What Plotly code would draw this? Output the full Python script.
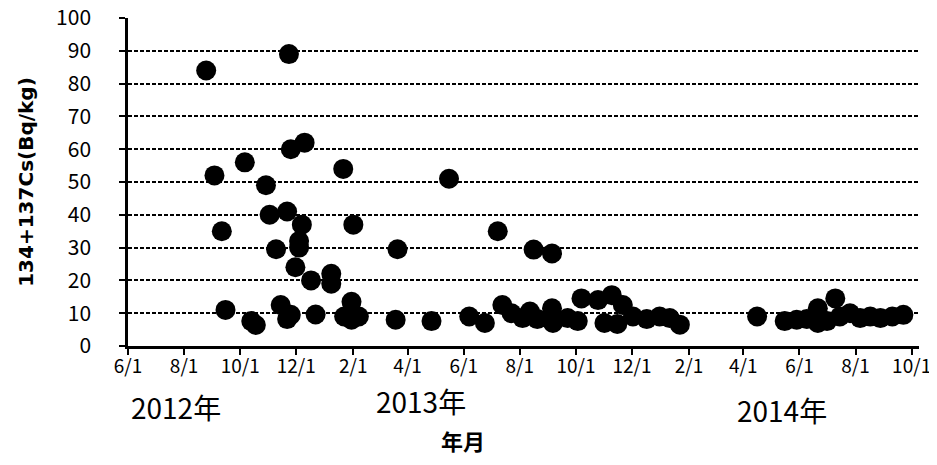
import plotly.graph_objects as go

dates = [
    "2012-08-25", "2012-09-03", "2012-09-11", "2012-09-15", "2012-10-06", "2012-10-13",
    "2012-10-18", "2012-10-29", "2012-11-02", "2012-11-09", "2012-11-14", "2012-11-21",
    "2012-11-21", "2012-11-23", "2012-11-25", "2012-11-25", "2012-11-30", "2012-12-04",
    "2012-12-04", "2012-12-07", "2012-12-10", "2012-12-17", "2012-12-22", "2013-01-08",
    "2013-01-08", "2013-01-21", "2013-01-22", "2013-01-30", "2013-01-30", "2013-02-01",
    "2013-02-07", "2013-03-19", "2013-03-21", "2013-04-27", "2013-05-16", "2013-06-07",
    "2013-06-24", "2013-07-08", "2013-07-13", "2013-07-23", "2013-08-04", "2013-08-12",
    "2013-08-16", "2013-08-20", "2013-09-05", "2013-09-05", "2013-09-06", "2013-09-22",
    "2013-10-03", "2013-10-07", "2013-10-25", "2013-11-01", "2013-11-09", "2013-11-15",
    "2013-11-21", "2013-12-02", "2013-12-17", "2013-12-31", "2014-01-11", "2014-01-22",
    "2014-04-16", "2014-05-16", "2014-05-29", "2014-06-09", "2014-06-21", "2014-06-21",
    "2014-07-01", "2014-07-10", "2014-07-15", "2014-07-26", "2014-08-06", "2014-08-17",
    "2014-08-28", "2014-09-10", "2014-09-22",
]
values = [
    84, 52, 35, 11, 56, 7.6,
    6.4, 49, 40, 29.5, 12.5, 41,
    8.2, 89, 60, 9.5, 24, 32,
    30, 37, 62, 20, 9.6, 22,
    19, 54, 9, 13.5, 8, 37,
    9, 8, 29.5, 7.6, 51, 9,
    7, 35, 12.5, 10, 8.5, 10.5,
    29.4, 8.2, 28.2, 11.5, 7, 8.5,
    7.6, 14.5, 14, 7, 15.5, 6.7,
    12.5, 9, 8.2, 9, 8.5, 6.5,
    9, 7.6, 8, 8.2, 11.5, 7,
    7.6, 14.5, 9, 10, 8.5, 9,
    8.5, 9, 9.5,
]

tick_dates = [
    "2012-06-01", "2012-08-01", "2012-10-01", "2012-12-01", "2013-02-01", "2013-04-01",
    "2013-06-01", "2013-08-01", "2013-10-01", "2013-12-01", "2014-02-01", "2014-04-01",
    "2014-06-01", "2014-08-01", "2014-10-01",
]
tick_text = ["6/1", "8/1", "10/1", "12/1", "2/1", "4/1", "6/1", "8/1", "10/1",
             "12/1", "2/1", "4/1", "6/1", "8/1", "10/1"]
y_ticks = [0, 10, 20, 30, 40, 50, 60, 70, 80, 90, 100]

year_labels = ["2012年", "2013年", "2014年"]

x_range = ["2012-06-01", "2014-10-09"]
y_range = [0, 100]

fig = go.Figure()
fig.add_trace(go.Scatter(
    x=dates, y=values, mode="markers",
    marker=dict(size=20, color="black", line=dict(width=0)),
    showlegend=False, cliponaxis=False, hoverinfo="x+y",
))

narrow = "Liberation Sans Narrow, Noto Sans CJK JP, sans-serif"

# page body has an 8px default margin, so the figure is sized/positioned to compensate
fig.update_layout(
    width=929, height=457,
    margin=dict(l=120, r=18, t=10, b=119),
    paper_bgcolor="white", plot_bgcolor="white",
    xaxis=dict(
        type="date", range=x_range, automargin=False,
        tickmode="array", tickvals=tick_dates, ticktext=tick_text,
        showgrid=False, showline=True, linecolor="black", linewidth=2.5,
        ticks="", ticklabelstandoff=1,
        minor=dict(tickmode="array", tickvals=tick_dates, ticks="outside",
                   ticklen=6, tickwidth=2, tickcolor="black", showgrid=False),
        tickfont=dict(family=narrow, size=19, color="black"),
        ticklabeloverflow="allow",
        zeroline=False,
    ),
    yaxis=dict(
        range=y_range, tickmode="array", tickvals=y_ticks, automargin=False,
        showgrid=True, gridcolor="black", gridwidth=2, griddash="4px,2px",
        showline=True, linecolor="black", linewidth=2.5,
        ticks="outside", ticklen=6, tickwidth=2, tickcolor="black",
        tickfont=dict(family=narrow, size=21, color="black"),
        ticklabelstandoff=24, ticklabeloverflow="allow",
        zeroline=False,
        title=dict(text="<b>134+137Cs(Bq/kg)</b>",
                   font=dict(family="DejaVu Sans, sans-serif", size=20, color="black"),
                   standoff=18),
    ),
)

year_pos = [(0.061, -0.185), (0.371, -0.167), (0.827, -0.194)]
for label, (px, py) in zip(year_labels, year_pos):
    fig.add_annotation(text=label, xref="paper", yref="paper", x=px, y=py,
                       xanchor="center", yanchor="middle", showarrow=False,
                       font=dict(family=narrow, size=28, color="black"))

fig.add_annotation(text="<b>年月</b>", xref="paper", yref="paper", x=0.424, y=-0.288,
                   xanchor="center", yanchor="middle", showarrow=False,
                   font=dict(family="Noto Sans CJK JP, sans-serif", size=22, color="black"))

fig.write_html("out.html")
